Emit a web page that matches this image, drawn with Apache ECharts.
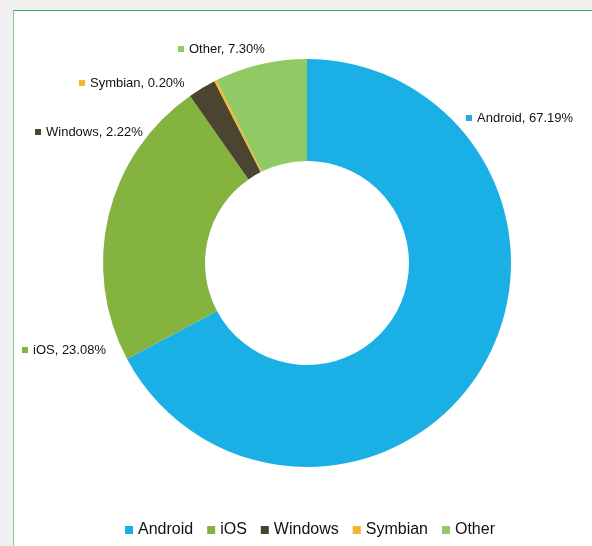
<!DOCTYPE html>
<html>
<head>
<meta charset="utf-8">
<script src="https://cdn.jsdelivr.net/npm/echarts@6/dist/echarts.min.js"></script>
<style>
  html, body { margin: 0; padding: 0; background: #f0f0f0; }
  #frame { position: absolute; left: 13px; top: 10px; width: 600px; height: 560px;
           border: 1px solid #34b85c; border-left-color: #8ccf95; background: #fff; }
  #main { position: absolute; left: 0; top: 0; width: 592px; height: 546px; }
</style>
</head>
<body>
<div id="frame"></div>
<div id="main"></div>
<script>
// 各平台份额 (%)
var names = ['Android', 'iOS', 'Windows', 'Symbian', 'Other'];
var shares = [67.19, 23.08, 2.22, 0.20, 7.30];
var colors = ['#1ab0e6', '#84b33f', '#4a4430', '#f9b42d', '#8fca65'];
// 标签位置 (方块左边, 中心y)
var labelPos = [[466, 118], [22, 350], [35, 132], [79, 83], [178, 49]];

var pieData = [];
for (var i = 0; i < names.length; i++) {
    pieData.push({ name: names[i], value: shares[i], itemStyle: { color: colors[i] } });
}

var myChart = echarts.init(document.getElementById('main'));
myChart.setOption({
    backgroundColor: 'transparent',
    animation: false,
    legend: {
        data: names,
        left: 125,
        bottom: 8,
        padding: 0,
        icon: 'rect',
        itemWidth: 8,
        itemHeight: 8,
        itemGap: 14,
        textStyle: { fontFamily: 'Liberation Sans', fontSize: 16, color: '#111' }
    },
    series: [{
        type: 'pie',
        center: [307, 263],
        radius: [102, 204],
        startAngle: 90,
        clockwise: true,
        avoidLabelOverlap: false,
        itemStyle: { borderWidth: 0 },
        label: {
            show: true,
            position: 'outside',
            formatter: function (p) {
                return '{sq|}{t|' + p.name + ', ' + p.value.toFixed(2) + '%}';
            },
            rich: {
                sq: { width: 6, height: 6, backgroundColor: 'inherit' },
                t: { fontFamily: 'Liberation Sans', fontSize: 13, color: '#111', padding: [0, 0, 0, 5] }
            }
        },
        labelLine: { show: false },
        labelLayout: function (params) {
            var p = labelPos[params.dataIndex];
            return { x: p[0], y: p[1], align: 'left', verticalAlign: 'middle' };
        },
        emphasis: { disabled: true },
        data: pieData
    }]
});
</script>
</body>
</html>
